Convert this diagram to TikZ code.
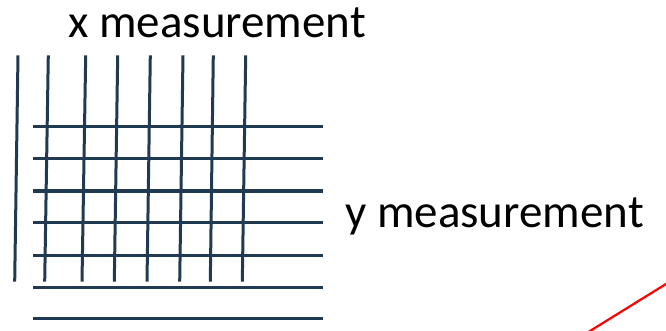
\documentclass[tikz,border=0pt]{standalone}
\usepackage{fontspec}
\setmainfont{Carlito}
\definecolor{gridblue}{RGB}{32,58,82}
\begin{document}
\begin{tikzpicture}[x=1pt,y=-1pt,
  gridline/.style={draw=gridblue,line width=3pt},
  label/.style={inner sep=0pt,anchor=base west,font=\fontsize{47}{56}\selectfont}]
\useasboundingbox (0,0) rectangle (666,331);
% vertical lines
\foreach \xt/\xb in {18/14.7,48.3/44.7,85.7/82,117.7/114.3,150.3/147,183/179.7,213.3/210.3,245.7/242.3}
  \draw[gridline] (\xt,55.3) -- (\xb,281.7);
% horizontal lines
\foreach \y in {127,159,191,222.7,255,287,318.7}
  \draw[gridline] (33.3,\y) -- (323.3,\y);
\node[label] (xm) at (68,37.3) {x measurement};
\node[label] (ym) at (345,227.3) {y measurement};
\coordinate (r1) at (585,334.1);
\coordinate (r2) at (670,281.5);
\draw[red,line width=2.2pt] (r1) -- (r2);
\end{tikzpicture}
\end{document}
